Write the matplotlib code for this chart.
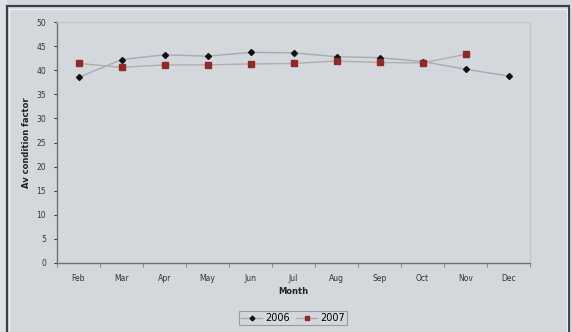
import matplotlib.pyplot as plt
from matplotlib.patches import Rectangle
import numpy as np

# Chart data
months = ["Feb", "Mar", "Apr", "May", "Jun", "Jul", "Aug", "Sep", "Oct", "Nov", "Dec"]
cf_2006 = [38.5, 42.2, 43.2, 42.9, 43.7, 43.6, 42.8, 42.6, 41.8, 40.2, 38.8]
cf_2007 = [41.4, 40.6, 41.1, 41.1, 41.3, 41.4, 41.9, 41.6, 41.5, 43.3, np.nan]
y_ticks = list(range(0, 51, 5))

bg = "#d4d7dc"
fig = plt.figure(figsize=(5.72, 3.32), dpi=100, facecolor=bg)

# Outer chart frame
fig.patches.append(Rectangle((0, 0), 7 / 572, 1, transform=fig.transFigure,
                             facecolor="#dfe2e7", edgecolor="none", zorder=0))
fig.patches.append(Rectangle((7 / 572, -0.05), 562 / 572, 1 - 6 / 332 + 0.05,
                             transform=fig.transFigure, facecolor="none",
                             edgecolor="#3b3f47", linewidth=1.6, zorder=1))
fig.patches.append(Rectangle((9 / 572, -0.05), 558 / 572, 1 - 9 / 332 + 0.05,
                             transform=fig.transFigure, facecolor="none",
                             edgecolor="#eef0f3", linewidth=0.8, zorder=1))

ax = fig.add_axes([57 / 572, 1 - 263 / 332, 473 / 572, 241 / 332])
ax.set_facecolor(bg)

x = np.arange(len(months))
ax.plot(x, cf_2006, color="#a3abb8", linewidth=1.0, marker="D", markersize=3,
        markerfacecolor="#111111", markeredgecolor="#111111", label="2006", zorder=3)
ax.plot(x, cf_2007, color="#b4acac", linewidth=1.0, marker="s", markersize=4,
        markerfacecolor="#8e2a2a", markeredgecolor="#8e2a2a", label="2007", zorder=4)

ax.set_xlim(-0.5, len(months) - 0.5)
ax.set_ylim(0, 50)
ax.set_yticks(y_ticks)
ax.set_xticks(x)
ax.set_xticklabels(months)
ax.set_xticks(np.arange(-0.5, len(months)), minor=True)
ax.tick_params(axis="x", which="major", length=0, labelsize=5.5, colors="#333333", pad=8)
ax.tick_params(axis="x", which="minor", length=3, color="#777777", direction="out")
ax.tick_params(axis="y", length=2, labelsize=5.5, colors="#333333", pad=6)

for side in ["top", "right"]:
    ax.spines[side].set_color("#c4c8ce")
    ax.spines[side].set_linewidth(1.0)
for side in ["left", "bottom"]:
    ax.spines[side].set_color("#6e7278")
    ax.spines[side].set_linewidth(1.0)

ax.set_ylabel("Av condition factor", fontsize=6, fontweight="bold", color="#222222", labelpad=4)
ax.set_xlabel("Month", fontsize=6, fontweight="bold", color="#222222", labelpad=3)

leg = ax.legend(loc="center", bbox_to_anchor=(293 / 572, 1 - 318 / 332),
                bbox_transform=fig.transFigure, ncol=2, fontsize=7,
                frameon=True, fancybox=False, handlelength=2.2, columnspacing=0.6,
                borderpad=0.25, handletextpad=0.3, markerscale=0.8)
leg.get_frame().set_facecolor(bg)
leg.get_frame().set_edgecolor("#8a8e94")
leg.get_frame().set_linewidth(0.8)

fig.savefig("out.png", dpi=100, facecolor=bg)
